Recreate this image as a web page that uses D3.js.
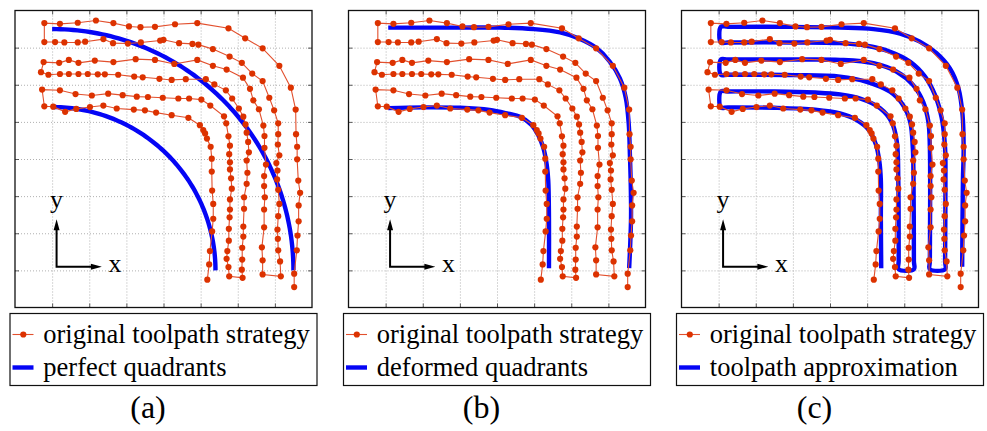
<!DOCTYPE html>
<html>
<head>
<meta charset="utf-8">
<script src="https://cdn.jsdelivr.net/npm/d3@7"></script>
<style>
  body { margin: 0; background: #fff; }
  svg { display: block; }
  text { font-family: 'Liberation Serif', 'Times New Roman', Times, serif; }
</style>
</head>
<body>
<svg id="drawing_region"></svg>
<script>
// ---- data (grid units, 0..8 in both directions, y pointing up) ----
const gridTicks = [1, 2, 3, 4, 5, 6, 7];
const originalLabel = 'original toolpath strategy';
const blueLabels = ['perfect quadrants', 'deformed quadrants', 'toolpath approximation'];
const captions = ['(a)', '(b)', '(c)'];

// measured toolpath, one serpentine: inner strip -> middle strip -> outer strip
const stripInner = [
  [5.18,0.75],[5.23,1.16],[5.25,1.52],[5.31,2.05],[5.34,2.39],[5.34,2.79],[5.31,3.15],[5.30,3.66],
  [5.30,4.01],[5.27,4.33],[5.17,4.55],[5.12,4.69],[5.07,4.78],[4.98,4.91],[4.67,5.11],[4.22,5.18],
  [3.80,5.25],[3.50,5.31],[3.20,5.33],[2.74,5.36],[2.38,5.44],[2.02,5.40],[1.65,5.35],[1.35,5.27],
  [1.03,5.41],[0.79,5.42],
  [0.73,5.87],[1.21,5.85],[1.63,5.75],[2.07,5.71],[2.51,5.76],[2.90,5.72],[3.28,5.68],[3.58,5.67],
  [3.98,5.65],[4.40,5.63],[4.69,5.63],[5.02,5.60],[5.26,5.44],[5.63,5.15],[5.69,4.96],[5.75,4.61],
  [5.79,4.36],[5.77,4.13],[5.79,3.91],[5.79,3.72],[5.82,3.48],[5.84,3.20],[5.79,2.91],[5.79,2.64],
  [5.78,2.43],[5.76,2.12],[5.76,1.80],[5.72,1.52],[5.70,1.31],[5.75,1.09],[5.77,0.84]
];
const stripMiddle = [
  [6.13,0.80],[6.11,1.02],[6.12,1.29],[6.12,1.61],[6.15,1.91],[6.15,2.18],[6.17,2.66],[6.17,2.97],
  [6.24,3.33],[6.26,3.63],[6.24,3.96],[6.30,4.18],[6.28,4.46],[6.24,4.71],[6.21,4.93],[6.15,5.14],
  [6.03,5.36],[5.85,5.63],[5.68,5.85],[5.37,6.01],[5.14,6.15],[4.60,6.15],[4.22,6.13],[3.89,6.16],
  [3.44,6.20],[3.21,6.22],[2.78,6.27],[2.42,6.28],[2.23,6.28],[1.96,6.29],[1.71,6.29],[1.45,6.29],
  [1.21,6.29],[0.90,6.27],[0.70,6.34],
  [0.77,6.61],[1.19,6.59],[1.45,6.67],[1.71,6.59],[2.15,6.65],[2.65,6.61],[3.25,6.69],[3.77,6.67],
  [4.29,6.56],[4.91,6.67],[5.33,6.51],[5.70,6.41],[6.14,6.19],[6.33,5.89],[6.42,5.58],[6.57,5.34],
  [6.69,4.90],[6.72,4.62],[6.72,4.30],[6.76,3.85],[6.71,3.54],[6.71,3.27],[6.73,2.97],[6.71,2.64],
  [6.71,2.16],[6.65,1.62],[6.67,1.27],[6.67,0.89]
];
const stripOuter = [
  [7.16,0.84],[7.14,1.24],[7.09,1.54],[7.08,1.85],[7.07,2.10],[7.09,2.46],[7.12,2.79],[7.09,3.17],
  [7.06,3.45],[7.07,3.69],[7.04,3.89],[7.12,4.10],[7.08,4.39],[7.09,4.67],[7.09,4.96],[6.98,5.31],
  [6.85,5.65],[6.67,6.10],[6.39,6.30],[6.11,6.59],[5.78,6.76],[5.33,6.96],[4.94,7.08],[4.78,7.10],
  [4.42,7.12],[4.00,7.21],[3.91,7.19],[3.39,7.14],[3.04,7.11],[2.64,7.12],[2.38,7.23],[1.89,7.16],
  [1.69,7.14],[1.33,7.14],[1.08,7.15],[0.79,7.15],
  [0.79,7.66],[1.21,7.64],[1.69,7.67],[2.18,7.73],[2.65,7.66],[3.07,7.57],[3.38,7.55],[3.77,7.56],
  [4.31,7.63],[4.91,7.66],[5.75,7.52],[6.20,7.25],[6.67,6.98],[7.12,6.51],[7.43,5.92],[7.56,5.33],
  [7.57,4.67],[7.60,4.33],[7.60,3.99],[7.63,3.42],[7.68,3.09],[7.64,2.75],[7.64,2.32],[7.61,1.94],
  [7.59,1.54],[7.52,0.91],[7.52,0.55]
];

// (a) perfect quadrants: centre and radii
const quadrantCentre = [1, 1];
const quadrantRadii = [6.5, 4.4];

// (b) deformed quadrants
const deformedOuter = [
  [1.07,7.54],[3.00,7.54],[4.08,7.54],[4.98,7.50],[5.70,7.41],[6.19,7.25],[6.69,6.98],[7.04,6.62],
  [7.31,6.17],[7.47,5.64],[7.55,4.92],[7.58,4.11],[7.60,3.43],[7.61,2.40],[7.56,1.06]
];
const deformedInner = [
  [1.07,5.37],[2.00,5.39],[3.00,5.38],[3.80,5.32],[4.30,5.22],[4.62,5.14],[4.93,4.92],[5.11,4.65],
  [5.25,4.29],[5.34,3.84],[5.38,3.43],[5.40,2.40],[5.40,1.06]
];

// (c) toolpath approximation
const approxPath = [
  [5.38,1.06],[5.37,2.40],[5.37,3.43],[5.33,3.93],[5.24,4.38],[5.05,4.78],[4.72,5.05],[4.27,5.23],
  [3.60,5.33],[2.50,5.38],[1.25,5.39],[1.06,5.39],[1.06,5.82],[1.25,5.82],[2.50,5.82],[3.60,5.79],
  [4.27,5.74],[4.81,5.63],[5.35,5.37],[5.66,5.00],[5.80,4.47],[5.84,3.43],[5.85,1.25],[5.85,1.03],
  [6.26,1.03],[6.26,1.25],[6.25,3.43],[6.23,4.29],[6.16,5.00],[5.97,5.45],[5.62,5.81],[4.99,6.08],
  [4.27,6.22],[3.00,6.26],[1.25,6.27],[1.06,6.27],[1.06,6.68],[1.25,6.68],[3.00,6.68],[4.27,6.67],
  [5.17,6.58],[5.80,6.35],[6.24,5.99],[6.51,5.54],[6.65,5.00],[6.69,4.29],[6.69,1.25],[6.69,1.03],
  [7.10,1.03],[7.10,1.25],[7.11,3.43],[7.10,4.29],[7.01,5.10],[6.83,5.72],[6.56,6.22],[6.16,6.62],
  [5.62,6.89],[4.99,7.05],[4.27,7.12],[3.00,7.14],[1.25,7.14],[1.06,7.14],[1.06,7.56],[1.25,7.56],
  [3.00,7.56],[4.27,7.54],[5.17,7.50],[5.89,7.38],[6.42,7.16],[6.87,6.85],[7.23,6.44],[7.46,5.90],
  [7.57,5.19],[7.60,4.29],[7.58,3.43],[7.56,1.10]
];

const originalPath = stripInner.concat(stripMiddle, stripOuter);

// quarter circle from centre/radius, sampled for d3.line
function quadrant(c, r) {
  return d3.range(0, 91).map(a => {
    const t = a * Math.PI / 180;
    return [c[0] + r * Math.sin(t), c[1] + r * Math.cos(t)];
  });
}

d3.select('#drawing_region')
  .attr('width', 987)
  .attr('height', 431);

class ToolpathPanel {

  constructor( config, original, blue ) {
    this.config = {
      parent: config.parent,
      left: config.left,
      top: config.top || 10.5,
      size: config.size || 297,
      label: config.label,
      caption: config.caption,
      curve: config.curve || d3.curveLinear
    };
    this.original = original;
    this.blue = blue;
    this.init();
  }

  init() {
    let self = this;

    self.svg = d3.select( self.config.parent )
      .append('g')
      .attr('transform', `translate(${self.config.left}, ${self.config.top})`);

    self.xscale = d3.scaleLinear().domain([0, 8]).range([0, self.config.size]);
    self.yscale = d3.scaleLinear().domain([0, 8]).range([self.config.size, 0]);

    self.line = d3.line()
      .x(d => self.xscale(d[0]))
      .y(d => self.yscale(d[1]));
  }

  update() {
    let self = this;
    self.render();
  }

  render() {
    let self = this;
    const s = self.config.size;

    // dotted grid
    self.svg.append('g')
      .attr('class', 'grid')
      .attr('transform', `translate(0, ${s})`)
      .call(d3.axisBottom(self.xscale).tickValues(gridTicks).tickSize(-s).tickFormat(''));
    self.svg.append('g')
      .attr('class', 'grid')
      .call(d3.axisLeft(self.yscale).tickValues(gridTicks).tickSize(-s).tickFormat(''));
    self.svg.selectAll('.grid path').remove();
    self.svg.selectAll('.grid line')
      .attr('stroke', '#b0b0b0')
      .attr('stroke-width', 1)
      .attr('stroke-dasharray', '1,2');

    // blue reference curves
    self.svg.selectAll('.blue')
      .data(self.blue)
      .enter()
      .append('path')
      .attr('class', 'blue')
      .attr('d', d => self.line.curve(self.config.curve)(d))
      .attr('fill', 'none')
      .attr('stroke', '#0505f5')
      .attr('stroke-width', 4.4);
    self.line.curve(d3.curveLinear);

    // measured toolpath
    self.svg.append('path')
      .attr('d', self.line(self.original))
      .attr('fill', 'none')
      .attr('stroke', '#e2502e')
      .attr('stroke-width', 1.1);

    self.svg.selectAll('.dot')
      .data(self.original)
      .enter()
      .append('circle')
      .attr('class', 'dot')
      .attr('cx', d => self.xscale(d[0]))
      .attr('cy', d => self.yscale(d[1]))
      .attr('r', 3.1)
      .style('fill', '#dc3200');

    // inward ticks on all four sides
    const ticks = [
      [d3.axisBottom(self.xscale), `translate(0, ${s})`],
      [d3.axisTop(self.xscale), 'translate(0, 0)'],
      [d3.axisLeft(self.yscale), 'translate(0, 0)'],
      [d3.axisRight(self.yscale), `translate(${s}, 0)`]
    ];
    ticks.forEach(t => {
      self.svg.append('g')
        .attr('class', 'ticks')
        .attr('transform', t[1])
        .call(t[0].tickValues(gridTicks).tickSize(-4).tickFormat(''));
    });
    self.svg.selectAll('.ticks path').remove();
    self.svg.selectAll('.ticks line').attr('stroke', '#333').attr('stroke-width', 0.8);

    self.svg.append('rect')
      .attr('width', s)
      .attr('height', s)
      .attr('fill', 'none')
      .attr('stroke', '#111')
      .attr('stroke-width', 1.3);

    // x / y direction glyph
    const ox = self.xscale(1.12), oy = self.yscale(1.10);
    const tx = self.xscale(2.34), ty = self.yscale(2.38);
    const glyph = self.svg.append('g');
    glyph.append('path')
      .attr('d', `M${ox},${ty + 6}V${oy}H${tx - 6}`)
      .attr('fill', 'none')
      .attr('stroke', '#000')
      .attr('stroke-width', 2);
    glyph.append('path')
      .attr('d', `M${ox},${ty}L${ox - 3},${ty + 11}L${ox + 3},${ty + 11}Z M${tx},${oy}L${tx - 11},${oy - 3}L${tx - 11},${oy + 3}Z`)
      .attr('fill', '#000');
    glyph.append('text')
      .attr('x', ox)
      .attr('y', self.yscale(2.67))
      .attr('text-anchor', 'middle')
      .style('font-size', '26px')
      .text('y');
    glyph.append('text')
      .attr('x', self.xscale(2.52))
      .attr('y', self.yscale(0.96))
      .style('font-size', '26px')
      .text('x');

    // legend
    const legend = self.svg.append('g')
      .attr('transform', `translate(-5, 303)`);
    legend.append('rect')
      .attr('width', 307)
      .attr('height', 72)
      .attr('fill', '#fff')
      .attr('stroke', '#111')
      .attr('stroke-width', 1.2);
    legend.append('line')
      .attr('x1', 2.5).attr('x2', 23.5)
      .attr('y1', 21).attr('y2', 21)
      .attr('stroke', '#e2502e').attr('stroke-width', 1.1);
    legend.append('circle')
      .attr('cx', 13.3).attr('cy', 21).attr('r', 3.1)
      .style('fill', '#dc3200');
    legend.append('line')
      .attr('x1', 2.5).attr('x2', 23.5)
      .attr('y1', 54).attr('y2', 54)
      .attr('stroke', '#0505f5').attr('stroke-width', 4.4);
    legend.selectAll('.label')
      .data([originalLabel, self.config.label])
      .enter()
      .append('text')
      .attr('class', 'label')
      .attr('x', 33.3)
      .attr('y', (d, i) => i === 0 ? 29.5 : 62.5)
      .style('font-size', '26.5px')
      .style('fill', '#000')
      .text(d => d);

    // caption
    self.svg.append('text')
      .attr('x', 133)
      .attr('y', 407)
      .attr('text-anchor', 'middle')
      .style('font-size', '32px')
      .text(self.config.caption);
  }
}

const panelLefts = [15, 348.5, 681.5];

const blueSets = [
  quadrantRadii.map(r => quadrant(quadrantCentre, r)),
  [deformedOuter, deformedInner],
  [approxPath]
];
const blueCurves = [d3.curveLinear, d3.curveCatmullRom.alpha(0.5), d3.curveCatmullRom.alpha(0.5)];

panelLefts.forEach((left, i) => {
  const panel = new ToolpathPanel({
    parent: '#drawing_region',
    left: left,
    label: blueLabels[i],
    caption: captions[i],
    curve: blueCurves[i]
  }, originalPath, blueSets[i]);
  panel.update();
});
</script>
</body>
</html>
